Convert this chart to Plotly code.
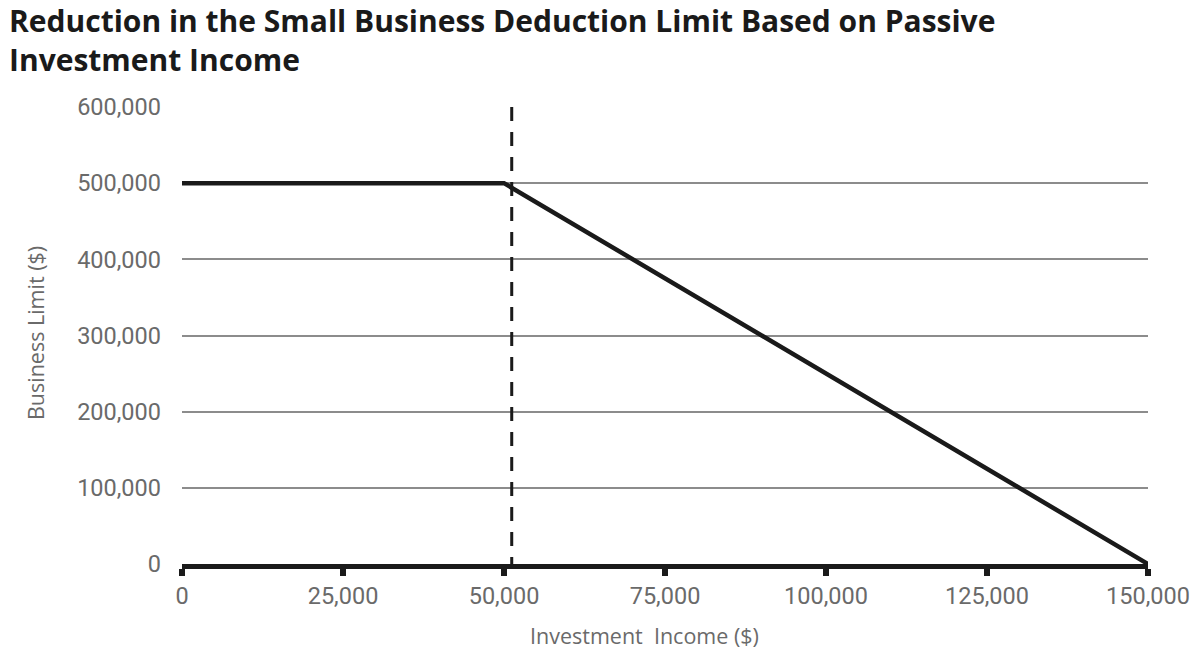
import plotly.graph_objects as go

income = [0, 50000, 150000]
limit = [500000, 500000, 0]
threshold_x = [51200, 51200]
threshold_y = [600000, -10000]
x_ticks = [0, 25000, 50000, 75000, 100000, 125000, 150000]
y_ticks = [0, 100000, 200000, 300000, 400000, 500000, 600000]

title_text = "<b>Reduction in the Small Business Deduction Limit Based on Passive<br>Investment Income</b>"
x_title = "Investment  Income ($)"
y_title = "Business Limit ($)"

fig = go.Figure()
fig.add_trace(go.Scatter(x=threshold_x, y=threshold_y, mode="lines",
                         line=dict(color="#1a1a1a", width=3, dash="14px,11px"),
                         cliponaxis=False, hoverinfo="skip", showlegend=False))
fig.add_trace(go.Scatter(x=income, y=limit, mode="lines",
                         line=dict(color="#1a1a1a", width=4.5),
                         cliponaxis=False, showlegend=False))

tick_font = dict(family="Roboto, Liberation Sans, sans-serif", size=23.5, color="#6a6a6a")
label_font = dict(family="Open Sans, sans-serif", size=21.5, color="#6a6a6a")

fig.add_annotation(text=title_text, xref="paper", yref="paper", x=-0.181, y=1.239,
                   xanchor="left", yanchor="top", align="left", showarrow=False,
                   font=dict(family="Open Sans, sans-serif", size=30, color="#1a1a1a"))
fig.add_annotation(text=x_title, xref="paper", yref="paper", x=0.479, y=-0.1575,
                   xanchor="center", yanchor="middle", showarrow=False, font=label_font)
fig.add_annotation(text=y_title, xref="paper", yref="paper", x=-0.151, y=0.5055,
                   xanchor="center", yanchor="middle", textangle=-90, showarrow=False,
                   font=label_font)

fig.update_layout(
    width=1193, height=667,
    paper_bgcolor="white", plot_bgcolor="white",
    margin=dict(l=182, r=45, t=107, b=103, autoexpand=False),
    xaxis=dict(range=[0, 150000], tickvals=x_ticks, tickformat=",d", automargin=False,
               showgrid=False, zeroline=False,
               showline=True, linecolor="#1a1a1a", linewidth=5,
               ticks="outside", ticklen=7, tickwidth=6, tickcolor="#1a1a1a",
               tickfont=tick_font),
    yaxis=dict(range=[0, 600000], tickvals=y_ticks, tickformat=",d", automargin=False,
               showgrid=True, gridcolor="#8c8c8c", gridwidth=1.5,
               zeroline=False, showline=False, ticks="",
               ticklabelstandoff=20,
               tickfont=tick_font),
)
fig.write_html("out.html", config={"displayModeBar": False},
               post_script="document.body.style.margin='0';document.body.style.overflow='hidden';")
